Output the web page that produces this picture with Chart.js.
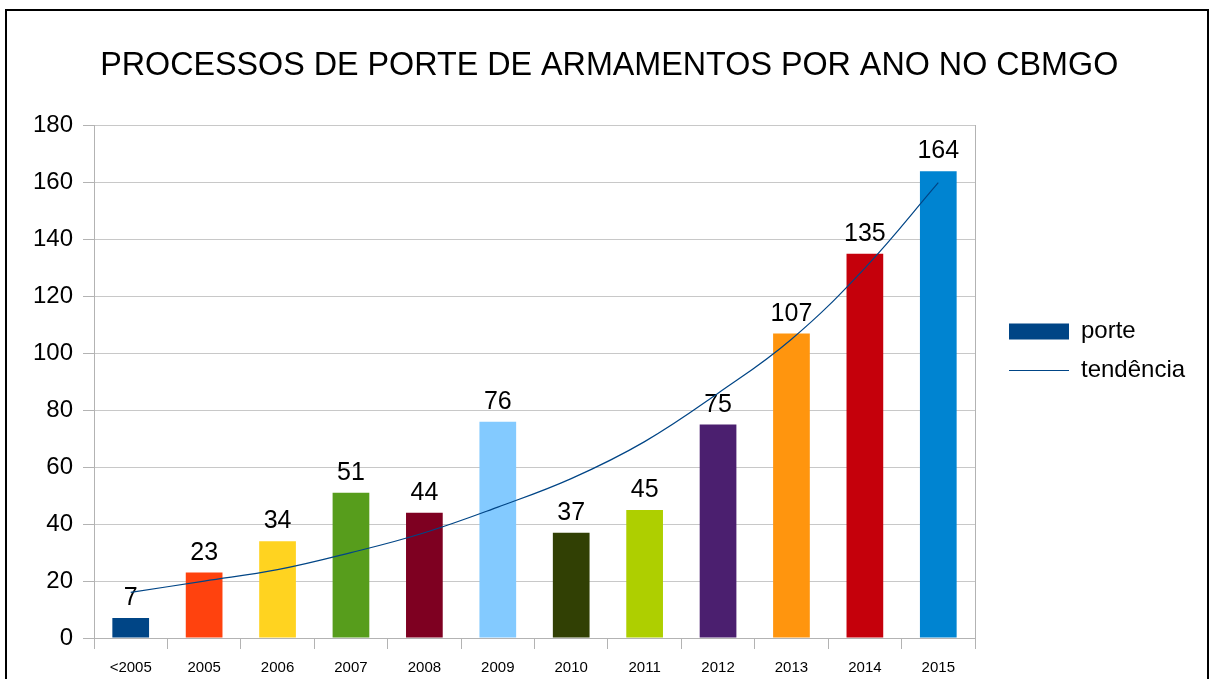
<!DOCTYPE html>
<html>
<head>
<meta charset="utf-8">
<title>Processos de porte</title>
<script src="https://cdn.jsdelivr.net/npm/chart.js@4.4.0/dist/chart.umd.min.js"></script>
<style>
    body { margin: 0; background: #fff; overflow: hidden; }
    #moldura { position: absolute; left: 5px; top: 9px; width: 1200px; height: 700px; border: 2px solid #000; }
    canvas { display: block; }
</style>
</head>
<body>
<div id="moldura"><canvas id="graficoPorte" width="1200" height="680"></canvas></div>
<script>
// dados
const anos = ['<2005', '2005', '2006', '2007', '2008', '2009', '2010', '2011', '2012', '2013', '2014', '2015'];
const porte = [7, 23, 34, 51, 44, 76, 37, 45, 75, 107, 135, 164];
const tendencia = [16, 20, 24, 30, 37, 46, 56, 69, 86, 105, 130, 160];
const ticksY = [0, 20, 40, 60, 80, 100, 120, 140, 160, 180];
const coresBarras = ['#004586', '#ff420e', '#ffd320', '#579d1c', '#7e0021', '#83caff',
                     '#314004', '#aecf00', '#4b1f6f', '#ff950e', '#c5000b', '#0084d1'];

const FONTE = '"Liberation Sans", Arial, sans-serif';
const CINZA = '#b3b3b3';

// rótulos de valor em cima das barras
const rotulosBarras = {
    id: 'rotulosBarras',
    afterDatasetDraw(chart, args) {
        if (args.index !== 0) return;
        const ctx = chart.ctx;
        ctx.save();
        ctx.font = '25px ' + FONTE;
        ctx.fillStyle = '#000';
        ctx.textAlign = 'center';
        ctx.textBaseline = 'alphabetic';
        args.meta.data.forEach((barra, i) => {
            ctx.fillText(String(porte[i]), barra.x, barra.y - 13);
        });
        ctx.restore();
    }
};

new Chart(document.getElementById('graficoPorte'), {
    type: 'bar',
    data: {
        labels: anos,
        datasets: [
            {
                label: 'porte',
                data: porte,
                backgroundColor: coresBarras,
                barPercentage: 0.5,
                categoryPercentage: 1,
                order: 2
            },
            {
                type: 'line',
                label: 'tendência',
                data: tendencia,
                borderColor: '#004586',
                borderWidth: 1.2,
                pointRadius: 0,
                tension: 0.4,
                fill: false,
                order: 1
            }
        ]
    },
    options: {
        responsive: false,
        animation: false,
        layout: { padding: { left: 25, right: 20.6, top: 0, bottom: 0 } },
        plugins: {
            title: {
                display: true,
                text: 'PROCESSOS DE PORTE DE ARMAMENTOS POR ANO NO CBMGO',
                color: '#000',
                font: { family: FONTE, size: 32.3, weight: 'normal' },
                padding: { top: 36, bottom: 40 }
            },
            legend: {
                position: 'right',
                align: 'center',
                labels: {
                    color: '#000',
                    font: { family: FONTE, size: 24 },
                    usePointStyle: true,
                    pointStyleWidth: 60,
                    boxHeight: 16,
                    padding: 15,
                    generateLabels: () => [
                        { text: 'porte', fillStyle: '#004586', strokeStyle: '#004586', lineWidth: 0,
                          pointStyle: 'rect', datasetIndex: 0, hidden: false },
                        { text: 'tendência', fillStyle: '#004586', strokeStyle: '#004586', lineWidth: 1.2,
                          pointStyle: 'line', datasetIndex: 1, hidden: false }
                    ]
                }
            },
            tooltip: { enabled: false }
        },
        scales: {
            x: {
                grid: {
                    offset: true,
                    color: c => (c.tick ? 'rgba(0,0,0,0)' : CINZA),
                    tickColor: CINZA,
                    tickLength: 11
                },
                border: { color: CINZA },
                ticks: { color: '#000', font: { family: FONTE, size: 15 }, padding: 10, maxRotation: 0 },
                afterFit: s => { s.height = 53; }
            },
            y: {
                min: 0,
                max: 180,
                afterBuildTicks: s => { s.ticks = ticksY.map(v => ({ value: v })); },
                grid: { color: '#c8c8c8', tickColor: CINZA, tickLength: 11 },
                border: { color: CINZA },
                ticks: { color: '#000', font: { family: FONTE, size: 24 }, padding: 10 },
                afterFit: s => { s.width = 62; }
            },
            bordaDireita: {
                position: 'right',
                grid: { display: false },
                ticks: { display: false },
                border: { color: CINZA },
                afterFit: s => { s.width = 19; }
            }
        }
    },
    plugins: [rotulosBarras]
});
</script>
</body>
</html>
